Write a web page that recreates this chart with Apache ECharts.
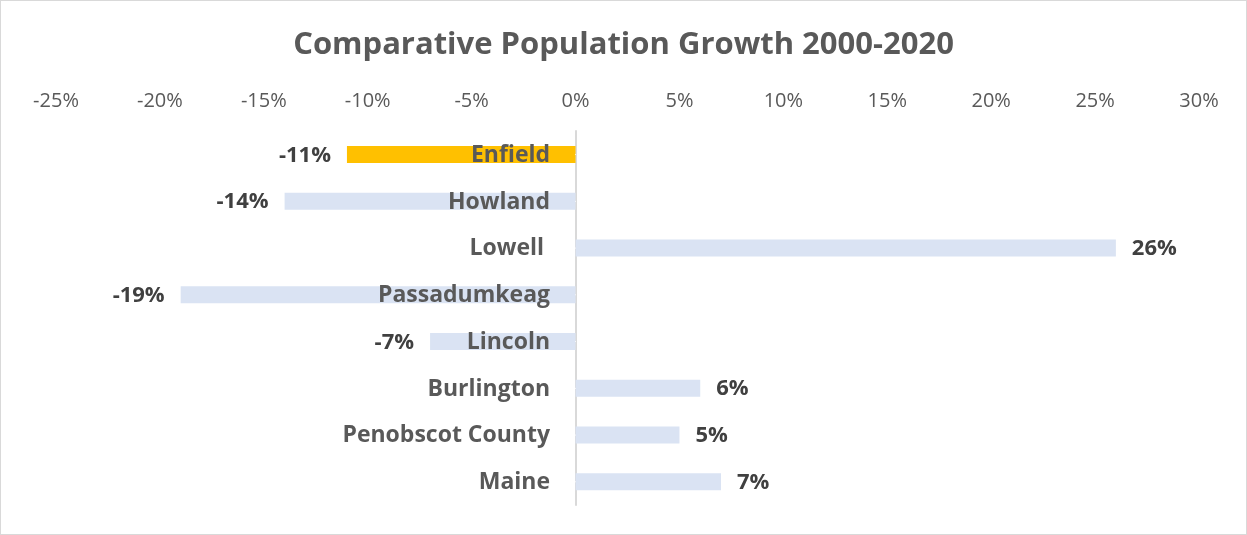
<!DOCTYPE html>
<html>
<head>
<meta charset="utf-8">
<script src="https://cdn.jsdelivr.net/npm/echarts@6/dist/echarts.min.js"></script>
<style>
  html, body { margin: 0; padding: 0; background: #fff; }
  #chart { width: 1245px; height: 533px; border: 1px solid #d9d9d9; }
</style>
</head>
<body>
<div id="chart"></div>
<script>
const categories = ['Enfield', 'Howland', 'Lowell ', 'Passadumkeag', 'Lincoln', 'Burlington', 'Penobscot County', 'Maine'];
const growthValues = [-11, -14, 26, -19, -7, 6, 5, 7];
const highlightCategory = 'Enfield';
const axisMin = -25, axisMax = 30, axisStep = 5;

const chart = echarts.init(document.getElementById('chart'));
const font = '"Open Sans", sans-serif';
chart.setOption({
  animation: false,
  title: {
    text: 'Comparative Population Growth 2000-2020',
    left: 'center', top: 24,
    textStyle: { fontFamily: font, fontSize: 31, fontWeight: 'bold', color: '#595959' }
  },
  grid: { left: 55, right: 47, top: 130, bottom: 29, containLabel: false, outerBoundsMode: 'none' },
  xAxis: {
    type: 'value', position: 'top', min: axisMin, max: axisMax, interval: axisStep,
    axisLine: { show: false }, axisTick: { show: false }, splitLine: { show: false },
    axisLabel: { formatter: v => v + '%', fontFamily: font, fontSize: 20, color: '#595959', margin: 20 }
  },
  yAxis: {
    type: 'category', data: categories, inverse: true,
    axisLine: { onZero: true, lineStyle: { color: '#d9d9d9', width: 2 } },
    axisTick: { show: false },
    axisLabel: { show: false }
  },
  series: [{
    type: 'bar', barWidth: 17,
    data: growthValues.map((v, i) => ({
      value: v,
      itemStyle: { color: categories[i] === highlightCategory ? '#FFC000' : '#DAE3F3' },
      label: { position: v < 0 ? 'left' : 'right' }
    })),
    label: {
      show: true, distance: 16, formatter: p => p.value + '%', offset: [0, 1],
      fontFamily: font, fontSize: 22, fontWeight: 'bold', color: '#404040'
    }
  }, {
    type: 'scatter', symbolSize: 1, z: 5, silent: true,
    itemStyle: { color: '#ffffff', opacity: 1 },
    emphasis: { disabled: true },
    data: categories.map(c => [0, c]),
    label: {
      show: true, position: 'left', distance: 25, formatter: p => p.value[1], offset: [0, 1],
      fontFamily: font, fontSize: 23, fontWeight: 'bold', color: '#595959', opacity: 1
    }
  }]
});
</script>
</body>
</html>
